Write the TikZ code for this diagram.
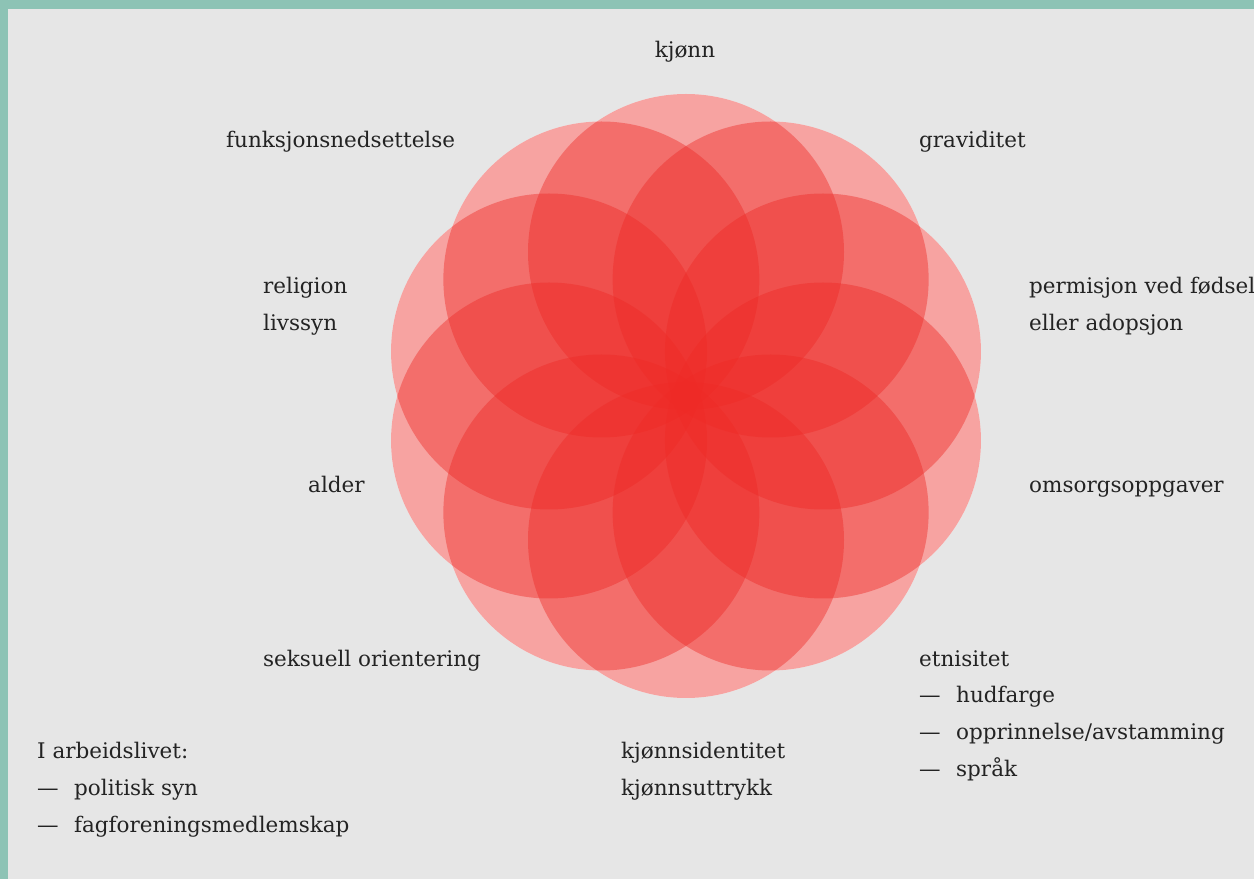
\documentclass[tikz,border=0pt]{standalone}
\usepackage{fontspec}
\usetikzlibrary{calc}
\setmainfont{DejaVu Serif}
\definecolor{teal}{RGB}{141,195,181}
\definecolor{bggray}{RGB}{230,230,230}
\definecolor{petal}{RGB}{238,42,38}
\definecolor{txt}{RGB}{35,35,35}
\tikzset{
  lbl/.style={anchor=base west, inner sep=0pt, text=txt, font=\fontsize{21.5}{26}\selectfont},
  lblc/.style={lbl, anchor=base},
  petalfill/.style={fill=petal, fill opacity=0.43},
}
\begin{document}
\begin{tikzpicture}[x=1pt,y=1pt]
\useasboundingbox (0,0) rectangle (1254,879);
\fill[teal] (0,0) rectangle (1254,879);
\fill[bggray] (8,0) rectangle (1254,870);
% circles
\coordinate (c) at (686,483);
\foreach \k in {0,...,9}{
  \fill[white] ($(c)+({90+36*\k}:144)$) circle (158);
}
\foreach \k in {0,...,9}{
  \fill[petalfill] ($(c)+({90+36*\k}:144)$) circle (158);
}
% labels (baselines)
\node[lblc] (kjonn) at (685,821) {kjønn};
\node[lbl] (funk) at (226,731) {funksjonsnedsettelse};
\node[lbl] (grav) at (919,731) {graviditet};
\node[lbl] (rel) at (263,585) {religion};
\node[lbl] (liv) at (263,548) {livssyn};
\node[lbl] (perm) at (1029,585) {permisjon ved fødsel};
\node[lbl] (ado) at (1029,548) {eller adopsjon};
\node[lbl] (alder) at (308,386) {alder};
\node[lbl] (oms) at (1029,386) {omsorgsoppgaver};
\node[lbl] (seks) at (263,212) {seksuell orientering};
\node[lbl] (etn) at (919,212) {etnisitet};
\node[lbl] (d1) at (919,176) {—};
\node[lbl] (hud) at (956,176) {hudfarge};
\node[lbl] (d2) at (919,139) {—};
\node[lbl] (opp) at (956,139) {opprinnelse/avstamming};
\node[lbl] (d3) at (919,102) {—};
\node[lbl] (spr) at (956,102) {språk};
\node[lbl] (kid) at (621,120) {kjønnsidentitet};
\node[lbl] (kut) at (621,83) {kjønnsuttrykk};
\node[lbl] (arb) at (37,120) {I arbeidslivet:};
\node[lbl] (d4) at (37,83) {—};
\node[lbl] (pol) at (74,83) {politisk syn};
\node[lbl] (d5) at (37,46) {—};
\node[lbl] (fag) at (74,46) {fagforeningsmedlemskap};
\end{tikzpicture}
\end{document}
